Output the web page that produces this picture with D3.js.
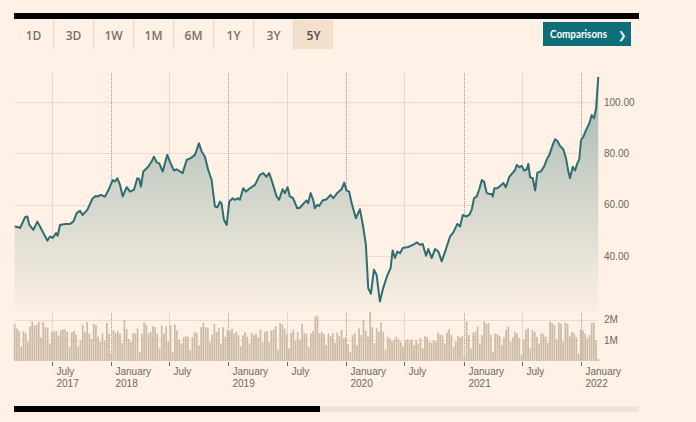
<!DOCTYPE html>
<html><head><meta charset="utf-8">
<script src="https://cdn.jsdelivr.net/npm/d3@7"></script>
<style>html,body{margin:0;padding:0;background:#fff1e5;overflow:hidden} svg{display:block}</style>
</head><body><svg id="c" width="696" height="422"></svg>
<script>
// ---------- DATA ----------
const rangeButtons = ["1D","3D","1W","1M","6M","1Y","3Y","5Y"];
const activeRange = "5Y";
const buttonLabel = "Comparisons";

// price: time as decimal year, value
const priceTimes = [
2017.180,2017.211,2017.226,2017.268,2017.288,2017.305,2017.339,2017.373,2017.410,2017.458,
2017.481,2017.504,2017.532,2017.546,2017.566,2017.609,2017.651,2017.679,2017.708,2017.736,
2017.759,2017.798,2017.844,2017.872,2017.892,2017.912,2017.949,2017.986,2018.014,2018.034,
2018.054,2018.077,2018.100,2018.134,2018.162,2018.196,2018.224,2018.241,2018.255,2018.275,
2018.317,2018.346,2018.366,2018.389,2018.411,2018.440,2018.479,2018.508,2018.536,2018.559,
2018.610,2018.644,2018.678,2018.715,2018.749,2018.772,2018.800,2018.828,2018.857,2018.885,
2018.908,2018.928,2018.942,2018.962,2018.985,2019.007,2019.036,2019.055,2019.083,2019.098,
2019.126,2019.149,2019.183,2019.226,2019.268,2019.296,2019.325,2019.347,2019.376,2019.410,
2019.432,2019.461,2019.481,2019.504,2019.523,2019.551,2019.586,2019.609,2019.643,2019.666,
2019.679,2019.700,2019.722,2019.736,2019.756,2019.773,2019.802,2019.836,2019.870,2019.892,
2019.926,2019.963,2019.986,2020.006,2020.028,2020.049,2020.085,2020.119,2020.147,2020.170,
2020.190,2020.213,2020.238,2020.261,2020.289,2020.317,2020.351,2020.380,2020.397,2020.417,
2020.437,2020.460,2020.483,2020.530,2020.573,2020.602,2020.630,2020.653,2020.681,2020.700,
2020.729,2020.757,2020.786,2020.814,2020.843,2020.885,2020.913,2020.947,2020.970,2020.993,
2021.021,2021.049,2021.070,2021.089,2021.112,2021.132,2021.155,2021.174,2021.197,2021.219,
2021.240,2021.248,2021.262,2021.288,2021.311,2021.339,2021.359,2021.390,2021.419,2021.438,
2021.453,2021.475,2021.495,2021.515,2021.538,2021.551,2021.566,2021.589,2021.609,2021.628,
2021.657,2021.685,2021.713,2021.730,2021.759,2021.779,2021.798,2021.821,2021.849,2021.872,
2021.892,2021.906,2021.929,2021.949,2021.968,2021.985,2022.000,2022.020,2022.043,2022.071,
2022.091,2022.111,2022.128,2022.147];
const priceValues = [
51.5,51.2,50.9,55.1,55.4,52.1,50.2,53.4,50.2,46.0,
47.6,47.0,48.9,47.9,52.1,52.5,52.5,53.4,56.7,57.6,
56.0,58.0,62.5,63.4,63.2,63.8,63.2,66.4,69.6,69.0,
70.3,67.7,63.2,66.8,65.1,65.8,70.3,69.9,67.0,72.9,
74.8,76.8,78.7,76.5,76.1,72.9,79.4,76.1,73.3,73.8,
72.3,77.4,78.1,79.4,83.9,80.7,78.7,73.5,69.6,59.3,
59.0,61.2,60.3,54.1,52.1,61.2,62.5,61.9,62.5,61.9,
66.4,65.1,66.4,67.7,71.6,72.3,70.9,72.3,68.4,63.2,
61.9,66.0,64.5,66.8,63.2,62.5,58.6,58.8,60.6,61.6,
60.6,64.5,61.9,58.6,59.9,59.5,61.6,62.1,63.8,62.5,
64.5,66.0,68.6,65.5,65.1,60.6,54.7,58.2,51.5,44.4,
27.5,25.3,34.6,32.7,22.3,27.5,32.3,35.3,42.1,39.2,
41.7,41.1,43.1,43.5,44.4,45.3,44.4,44.7,40.1,42.7,
39.2,42.7,41.7,37.9,41.7,47.6,49.2,52.5,51.5,56.0,
55.4,56.0,58.2,62.5,63.2,65.8,69.6,69.0,64.5,64.2,
64.2,63.2,66.4,66.4,67.3,68.4,66.8,70.9,72.5,73.5,
75.5,74.6,75.1,73.3,73.8,75.9,70.7,70.3,65.5,72.5,
72.9,74.8,78.1,79.4,83.3,85.5,84.9,82.9,81.6,78.1,
72.9,70.3,74.8,73.3,76.1,77.7,85.2,86.5,89.1,91.7,
94.9,93.7,97.5,109.8];

// weekly volume, millions
const volumeValues = [
1.79,1.56,1.44,0.68,1.43,1.35,0.92,1.67,1.90,1.71,
1.75,1.87,1.13,1.87,1.63,1.60,0.84,1.40,1.43,1.44,
1.22,1.48,1.51,1.52,1.40,0.68,1.38,1.44,1.27,0.71,
0.98,1.75,1.40,1.87,1.33,1.06,1.79,1.73,1.17,0.92,
1.33,0.98,1.83,1.32,0.40,1.48,1.35,1.44,1.32,0.87,
1.98,1.54,1.06,0.92,1.35,1.32,1.56,0.44,1.32,1.87,
1.75,1.32,1.40,1.67,1.63,1.32,0.60,1.71,1.32,1.67,
0.92,1.71,0.44,1.75,1.48,1.03,0.84,1.14,1.19,1.17,
0.52,1.14,1.40,1.35,0.76,1.63,1.83,1.63,1.60,0.92,
1.27,1.79,1.40,1.60,0.84,1.63,1.17,1.48,1.44,1.56,
1.32,1.40,1.24,0.71,1.24,1.40,1.17,0.84,1.35,1.24,
1.32,1.13,1.51,0.92,1.40,1.44,0.92,1.48,1.51,1.67,
0.56,1.83,1.75,1.56,1.32,0.60,1.35,1.51,0.98,1.40,
1.03,1.79,1.35,1.32,0.68,1.32,1.44,2.13,2.18,1.33,
1.41,1.30,0.76,1.33,1.20,1.33,0.88,1.37,1.20,1.50,
1.09,1.14,0.81,0.44,1.25,1.33,0.76,1.58,1.25,1.98,
1.46,1.17,2.72,1.63,0.85,1.58,1.41,1.85,1.41,0.55,
1.17,1.09,0.93,1.04,1.17,1.04,0.93,0.68,1.01,1.04,
0.98,1.04,0.76,1.01,0.85,1.09,0.60,1.20,1.17,0.93,
0.88,1.01,0.93,1.37,1.25,1.25,0.85,1.37,1.53,1.25,
0.68,0.93,1.20,1.14,1.20,0.28,1.90,1.25,0.60,1.37,
1.41,1.66,0.85,1.25,1.90,1.79,1.82,1.25,0.44,1.33,
1.30,1.20,0.76,1.14,1.50,1.66,0.93,1.14,1.41,1.33,
1.09,0.28,1.04,1.53,1.58,0.60,1.50,1.41,1.17,0.85,
1.33,1.30,1.17,0.88,1.90,1.82,1.74,1.04,1.85,1.79,
0.93,1.85,1.79,1.20,1.41,1.33,1.14,0.36,1.50,1.46,
1.33,1.09,1.25,1.82,1.85,1.01,0.11];

const priceTicks = [40,60,80,100];
const volumeTicks = [1,2];

// ---------- LAYOUT ----------
const W = 696, H = 422;
const plotLeft = 14.7, plotRight = 598.3;
const gridTop = 73, priceBottom = 312;
const volBase = 361, volTop2M = 319.5;

const svg = d3.select("#c");
svg.append("rect").attr("width",W).attr("height",H).attr("fill","#fff1e5");

const toDate = t => {
  const y = Math.floor(t), f = t - y;
  const a = Date.UTC(y,0,1), b = Date.UTC(y+1,0,1);
  return new Date(a + f*(b-a));
};
const price = priceTimes.map((t,i)=>({date:toDate(t), value:priceValues[i]}));
const d0 = price[0].date, d1 = price[price.length-1].date;

const x = d3.scaleUtc().domain([d0,d1]).range([plotLeft,plotRight]);
const y = d3.scaleLinear().domain([40,100]).range([256,102]);
const yv = d3.scaleLinear().domain([0,2]).range([volBase,volTop2M]);

// top bar
svg.append("rect").attr("x",14).attr("y",13).attr("width",625).attr("height",6).attr("fill","#000");

// range tabs
const tabs = svg.append("g");
rangeButtons.forEach((lab,i)=>{
  const x0 = 13 + 40*i;
  if (lab === activeRange) {
    tabs.append("rect").attr("x",x0+1).attr("y",20).attr("width",39).attr("height",29).attr("fill","#f2dfcc");
  }
  if (i>0) tabs.append("line").attr("x1",x0+0.5).attr("x2",x0+0.5).attr("y1",20).attr("y2",49)
    .attr("stroke","#e6d8cb").attr("stroke-width",1);
  tabs.append("text").attr("x",x0+20.5).attr("y",39.5).attr("text-anchor","middle")
    .attr("font-family","'Open Sans', sans-serif").attr("font-size",12).attr("font-weight",600)
    .attr("fill", lab===activeRange ? "#4f4a46" : "#77706a").text(lab);
});

// comparisons button
svg.append("rect").attr("x",543).attr("y",22).attr("width",88).attr("height",24).attr("fill","#0f6f78");
svg.append("text").attr("x",550).attr("y",37.5).attr("font-family","Lato, 'Open Sans', sans-serif")
  .attr("font-size",10.5).attr("font-weight",700).attr("fill","#fff")
  .attr("textLength",57).attr("lengthAdjust","spacingAndGlyphs").text(buttonLabel);
svg.append("text").attr("x",618).attr("y",38.5).attr("font-family","'DejaVu Sans', sans-serif")
  .attr("font-size",10).attr("font-weight",700).attr("fill","#fff").text("\u276F");

// gradient
const defs = svg.append("defs");
const grad = defs.append("linearGradient").attr("id","fillg").attr("gradientUnits","userSpaceOnUse")
  .attr("x1",0).attr("y1",75).attr("x2",0).attr("y2",priceBottom);
grad.append("stop").attr("offset",0).attr("stop-color","#9fb6b1");
grad.append("stop").attr("offset",0.45).attr("stop-color","#cdd2c8");
grad.append("stop").attr("offset",1).attr("stop-color","#fbefe3");

// horizontal gridlines
const grid = svg.append("g");
priceTicks.forEach(v=>{
  grid.append("line").attr("x1",plotLeft).attr("x2",plotRight).attr("y1",Math.round(y(v))+0.5).attr("y2",Math.round(y(v))+0.5)
    .attr("stroke","#eadccf").attr("stroke-width",1);
});
volumeTicks.forEach(v=>{
  grid.append("line").attr("x1",plotLeft).attr("x2",plotRight).attr("y1",Math.round(yv(v))+0.5).attr("y2",Math.round(yv(v))+0.5)
    .attr("stroke","#eadccf").attr("stroke-width",1);
});

// vertical gridlines (Jan dotted, July solid)
const xTicks = x.ticks(d3.utcMonth.every(6)).filter(d=>d.getUTCMonth()===0||d.getUTCMonth()===6);
xTicks.forEach(d=>{
  const xx = Math.round(x(d))+0.5;
  const jan = d.getUTCMonth()===0;
  grid.append("line").attr("x1",xx).attr("x2",xx).attr("y1",gridTop).attr("y2",volBase)
    .attr("stroke", jan ? "#a39c95" : "#e6d9cc").attr("stroke-width",1)
    .attr("stroke-dasharray", jan ? "1,1" : null);
});

// volume bars
const n = volumeValues.length;
const volDates = volumeValues.map((v,i)=> new Date(+d0 + i*(d1-d0)/(n-1)));
svg.append("g").selectAll("rect").data(volumeValues).join("rect")
  .attr("x",(v,i)=>x(volDates[i])-0.85).attr("width",1.7)
  .attr("y",v=>yv(v)).attr("height",v=>volBase-yv(v))
  .attr("fill","#cbbaa6");

// price area + line
const area = d3.area().x(d=>x(d.date)).y0(priceBottom).y1(d=>y(d.value));
svg.append("path").datum(price).attr("d",area).attr("fill","url(#fillg)");
const line = d3.line().x(d=>x(d.date)).y(d=>y(d.value));
svg.append("path").datum(price).attr("d",line).attr("fill","none")
  .attr("stroke","#2f6e70").attr("stroke-width",2).attr("stroke-linejoin","round");

// y labels
const lab = svg.append("g").attr("font-family","'Liberation Sans', Arial, sans-serif").attr("font-size",10).attr("fill","#6e6761");
priceTicks.forEach(v=>{
  lab.append("text").attr("x",604).attr("y",y(v)+3.5).text(d3.format(".2f")(v));
});
volumeTicks.forEach(v=>{
  lab.append("text").attr("x",604).attr("y",yv(v)+3.5).text(v+"M");
});

// x ticks + labels
const monthName = d3.utcFormat("%B");
xTicks.forEach((d,i)=>{
  const xx = Math.round(x(d))+0.5;
  lab.append("line").attr("x1",xx).attr("x2",xx).attr("y1",volBase+1).attr("y2",volBase+5)
    .attr("stroke","#6e6761").attr("stroke-width",1);
  lab.append("text").attr("x",xx+4).attr("y",375).text(monthName(d));
  if (i===0 || d.getUTCMonth()===0) lab.append("text").attr("x",xx+4).attr("y",387).text(d.getUTCFullYear());
});

// scrollbar
svg.append("rect").attr("x",14).attr("y",406).attr("width",625).attr("height",6).attr("fill","#efe2d6");
svg.append("rect").attr("x",14).attr("y",406).attr("width",306).attr("height",6).attr("fill","#000");
</script>
</body></html>
